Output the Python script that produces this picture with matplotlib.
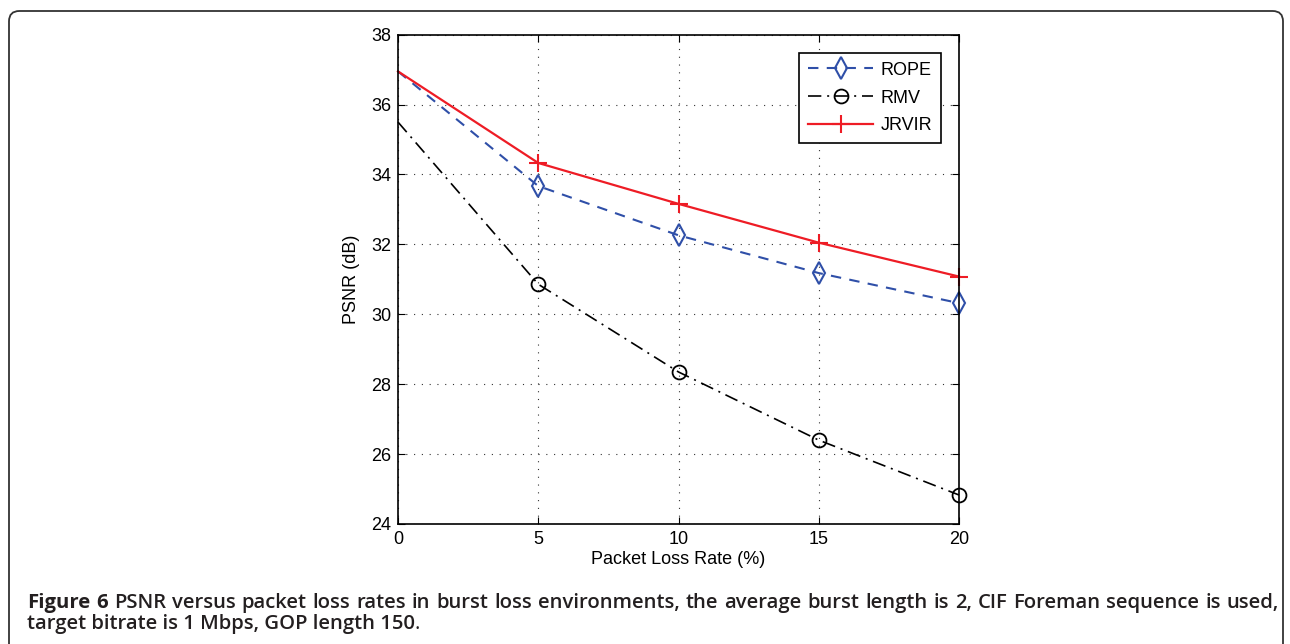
import matplotlib
matplotlib.use("Agg")
import matplotlib.pyplot as plt
from matplotlib.patches import FancyBboxPatch

# data
loss_rate = [0, 5, 10, 15, 20]
rope = [36.95, 33.67, 32.26, 31.18, 30.32]
rmv = [35.5, 30.86, 28.35, 26.40, 24.83]
jrvir = [36.95, 34.33, 33.16, 32.05, 31.08]

caption_1 = "Figure 6 PSNR versus packet loss rates in burst loss environments, the average burst length is 2, CIF Foreman sequence is used,"
caption_2 = "target bitrate is 1 Mbps, GOP length 150"

plt.rcParams['font.family'] = ['Liberation Sans', 'DejaVu Sans']

fig = plt.figure(figsize=(12.9, 6.44), dpi=100)
W, H = 1290, 644
ax = fig.add_axes([398 / W, 1 - 524 / H, (959 - 398) / W, (524 - 34.7) / H])

ax.plot(loss_rate, rope, color='#2f4fa8', lw=1.5, dashes=(5, 4),
        marker='d', ms=11, mfc='none', mew=1.5, markevery=[1, 2, 3, 4],
        clip_on=False, label='ROPE')
ax.plot(loss_rate, rmv, color='black', lw=1.2, dashes=(8, 3.5, 1.2, 3.5),
        marker='o', ms=10, mfc='none', mew=1.3, markevery=[1, 2, 3, 4],
        clip_on=False, label='RMV')
ax.plot(loss_rate, jrvir, color='#ee1c25', lw=1.6, ls='-',
        marker='+', ms=13, mew=1.5, markevery=[1, 2, 3, 4],
        clip_on=False, label='JRVIR')

ax.set_xlim(0, 20)
ax.set_ylim(24, 38)
ax.set_xticks([0, 5, 10, 15, 20])
ax.set_yticks(range(24, 39, 2))
ax.grid(True, color='#333333', lw=0.8, ls=(0, (1, 6)))
ax.tick_params(direction='in', top=True, right=True, length=5, labelsize=13, pad=5)
for s in ax.spines.values():
    s.set_linewidth(1.2)
ax.set_xlabel('Packet Loss Rate (%)', fontsize=13, labelpad=2)
ax.set_ylabel('PSNR (dB)', fontsize=13, labelpad=8)

leg = ax.legend(loc='upper right', fontsize=13, numpoints=1, handlelength=3.6,
                fancybox=False, edgecolor='black', framealpha=1,
                borderaxespad=1.0, labelspacing=0.6, handletextpad=0.4,
                borderpad=0.5)
leg.get_frame().set_linewidth(1.2)

# outer rounded frame
frame = FancyBboxPatch((9 / W, -20 / H), (1283 - 9) / W, (644 - 11 + 20) / H,
                       boxstyle="round,pad=0,rounding_size=0.008",
                       transform=fig.transFigure, fill=False,
                       edgecolor='#333333', lw=1.3, mutation_aspect=W / H)
fig.add_artist(frame)

# caption: fit font size to the line, then justify the first line
renderer = fig.canvas.get_renderer()
words = caption_1.split(' ')
weights = ['bold' if i < 2 else 'semibold' for i in range(len(words))]
fam = ['Open Sans', 'DejaVu Sans']
x0, x1 = 27, 1279


def width_of(s, size, weight):
    t = fig.text(0, 0, s, family=fam, fontsize=size, fontweight=weight)
    w = t.get_window_extent(renderer).width
    t.remove()
    return w


base = 11
sp = width_of('a a', base, 'semibold') - width_of('aa', base, 'semibold')
natural = sum(width_of(w, base, wt) for w, wt in zip(words, weights)) + sp * (len(words) - 1)
size = base * (x1 - x0) * 0.985 / natural

y1 = 1 - 608 / H
texts = []
total = 0
for w, wt in zip(words, weights):
    t = fig.text(0, y1, w, family=fam, fontsize=size, fontweight=wt, color='#231f20')
    wd = t.get_window_extent(renderer).width
    texts.append((t, wd))
    total += wd
gap = (x1 - x0 - total) / (len(words) - 1)
x = x0
for t, wd in texts:
    t.set_x(x / W)
    x += wd + gap

t2 = fig.text(x0 / W, 1 - 629 / H, caption_2, family=fam, fontsize=size,
              fontweight='semibold', color='#231f20')
bb = t2.get_window_extent(renderer)
fig.text(bb.x1 / W, 1 - 629 / H, '.', family=fam, fontsize=size, color='#231f20')

fig.savefig('out.png', dpi=100)
